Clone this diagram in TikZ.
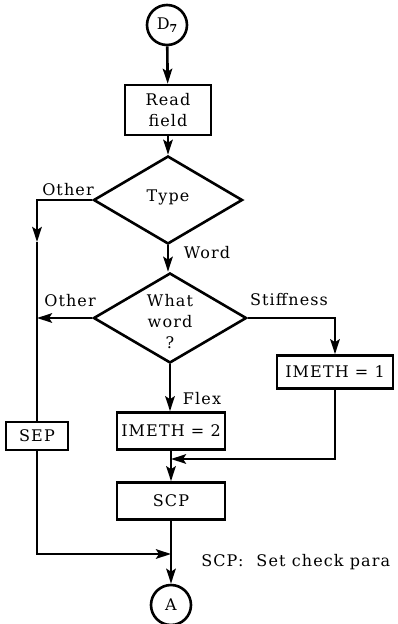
\documentclass[tikz,border=0pt]{standalone}
\usepackage{fontspec}
\setmainfont[LetterSpace=7]{DejaVu Serif}
\usetikzlibrary{shapes.geometric,arrows.meta}
\begin{document}
\begin{tikzpicture}[x=1pt,y=-1pt, line width=2.6pt,
  every node/.style={font=\fontsize{16}{21}\selectfont},
  box/.style={draw, rectangle, inner sep=0pt, align=center},
  dec/.style={draw, diamond, inner sep=0pt},
  conn/.style={draw, circle, minimum size=40pt, inner sep=0pt},
  lab/.style={inner sep=0pt, align=center},
  arr/.style={-{Stealth[length=15pt,width=9.5pt,inset=3pt]}}]
\useasboundingbox (0,0) rectangle (398,624);
% nodes
\node[conn] (d7) at (167,25) {D\raisebox{-3pt}{\fontsize{11}{11}\selectfont\bfseries 7}};
\node[box, minimum width=86pt, minimum height=50pt] (read) at (168,110) {Read\\field};
\node[dec, minimum width=149pt, minimum height=88pt] (type) at (168,200) {};
\node[lab, anchor=base] (typet) at (168,201) {Type};
\node[dec, minimum width=153pt, minimum height=90pt] (what) at (170,318) {};
\node[lab] (whatt) at (170,322) {What\\word\\?};
\node[box, minimum width=116pt, minimum height=33pt] (m1) at (335,372) {IMETH = 1};
\node[box, minimum width=108pt, minimum height=37pt] (m2) at (171,431) {IMETH = 2};
\node[box, minimum width=62pt, minimum height=28pt] (sep) at (37,436) {SEP};
\node[box, minimum width=108pt, minimum height=37pt] (scp) at (171,501) {SCP};
\node[conn] (a) at (171,605) {A};
\coordinate (oth) at (37,242);
\coordinate (j1) at (171,459);
\coordinate (j2) at (171,554);
% labels
\node[lab, anchor=base] (l1) at (68,195) {Other};
\node[lab, anchor=base] (l2) at (207,258) {Word};
\node[lab, anchor=base] (l3) at (70,306) {Other};
\node[lab, anchor=base] (l4) at (289,305) {Stiffness};
\node[lab, anchor=base] (l5) at (202,404) {Flex};
\node[lab, anchor=base west] (l6) at (200,566) {SCP:\hspace{13pt}Set check para};
% connectors
\draw[arr] (d7) -- (read);
\draw[arr] (read) -- (type);
\draw[arr] (type.south) -- (type.south |- what.north);
\draw[arr] (type.west) -| (oth);
\draw (oth) -- (sep.north);
\draw[arr] (what.west) -- (what.west -| oth);
\draw[arr] (what.east) -| (m1.north);
\draw[arr] (what.south) -- (what.south |- m2.north);
\draw[arr] (m1.south) |- (j1);
\draw[arr] (m2) -- (scp);
\draw[arr] (sep.south) |- (j2);
\draw[arr] (scp) -- (a);
\end{tikzpicture}
\end{document}
